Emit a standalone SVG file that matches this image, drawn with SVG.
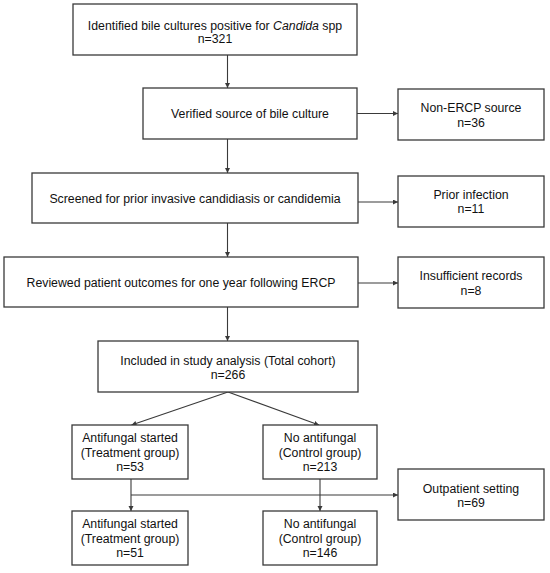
<svg xmlns="http://www.w3.org/2000/svg" width="550" height="573" viewBox="0 0 550 573">
<style>
.box{fill:#fff;stroke:#3a3a3a;stroke-width:1.3}
text{font-family:"Liberation Sans",Arial,sans-serif;font-size:12.3px;fill:#111;text-anchor:middle}
.c line,.c path{stroke:#3a3a3a;stroke-width:1.1;fill:none;marker-end:url(#ah)}
</style>
<defs>
<marker id="ah" markerUnits="userSpaceOnUse" markerWidth="6" markerHeight="6" refX="5" refY="2.5" orient="auto">
<path d="M0,0 L5,2.5 L0,5 z" fill="#3a3a3a"/>
</marker>
</defs>
<rect width="550" height="573" fill="#fff"/>
<g class="c" id="connectors">
<line x1="227.5" y1="55" x2="227.5" y2="88"/>
<line x1="227.5" y1="139" x2="227.5" y2="173"/>
<line x1="227.5" y1="223" x2="227.5" y2="257"/>
<line x1="227.5" y1="307" x2="227.5" y2="341"/>
<line x1="357" y1="113.5" x2="398" y2="113.5"/>
<line x1="358" y1="202" x2="398" y2="202"/>
<line x1="358" y1="283" x2="398" y2="283"/>
<line x1="228" y1="392" x2="131.5" y2="425"/>
<line x1="228" y1="392" x2="319" y2="425"/>
<line x1="131" y1="479" x2="131" y2="511"/>
<line x1="320" y1="479" x2="320" y2="511"/>
<line x1="131" y1="495" x2="398" y2="495"/>
</g>
<g id="n1"><rect class="box" x="73" y="4" width="284" height="51"/>
<text x="215" y="29.5">Identified bile cultures positive for <tspan font-style="italic">Candida</tspan> spp</text>
<text x="215" y="43">n=321</text></g>
<g id="n2"><rect class="box" x="143" y="88" width="214" height="51"/>
<text x="250" y="118">Verified source of bile culture</text></g>
<g id="n3"><rect class="box" x="398" y="89" width="146" height="51"/>
<text x="471" y="111.5">Non-ERCP source</text>
<text x="471" y="126.5">n=36</text></g>
<g id="n4"><rect class="box" x="32" y="173" width="326" height="50"/>
<text x="195" y="202.5">Screened for prior invasive candidiasis or candidemia</text></g>
<g id="n5"><rect class="box" x="398" y="176" width="146" height="51"/>
<text x="471" y="198.5">Prior infection</text>
<text x="471" y="212.5">n=11</text></g>
<g id="n6"><rect class="box" x="4" y="257" width="354" height="50"/>
<text x="181" y="286.5">Reviewed patient outcomes for one year following ERCP</text></g>
<g id="n7"><rect class="box" x="398" y="257" width="146" height="51"/>
<text x="471" y="279.5">Insufficient records</text>
<text x="471" y="294.5">n=8</text></g>
<g id="n8"><rect class="box" x="98" y="341" width="260" height="51"/>
<text x="228" y="365">Included in study analysis (Total cohort)</text>
<text x="228" y="378.5">n=266</text></g>
<g id="n9"><rect class="box" x="72" y="425" width="116" height="54"/>
<text x="130" y="441.5">Antifungal started</text>
<text x="130" y="456.5">(Treatment group)</text>
<text x="130" y="471">n=53</text></g>
<g id="n10"><rect class="box" x="263" y="425" width="114" height="54"/>
<text x="320" y="441.5">No antifungal</text>
<text x="320" y="456.5">(Control group)</text>
<text x="320" y="471">n=213</text></g>
<g id="n11"><rect class="box" x="398" y="469" width="146" height="51"/>
<text x="471" y="492.5">Outpatient setting</text>
<text x="471" y="506.5">n=69</text></g>
<g id="n12"><rect class="box" x="72" y="511" width="116" height="54"/>
<text x="130" y="528">Antifungal started</text>
<text x="130" y="542.5">(Treatment group)</text>
<text x="130" y="556.5">n=51</text></g>
<g id="n13"><rect class="box" x="263" y="511" width="114" height="54"/>
<text x="320" y="528">No antifungal</text>
<text x="320" y="542.5">(Control group)</text>
<text x="320" y="556.5">n=146</text></g>
</svg>
